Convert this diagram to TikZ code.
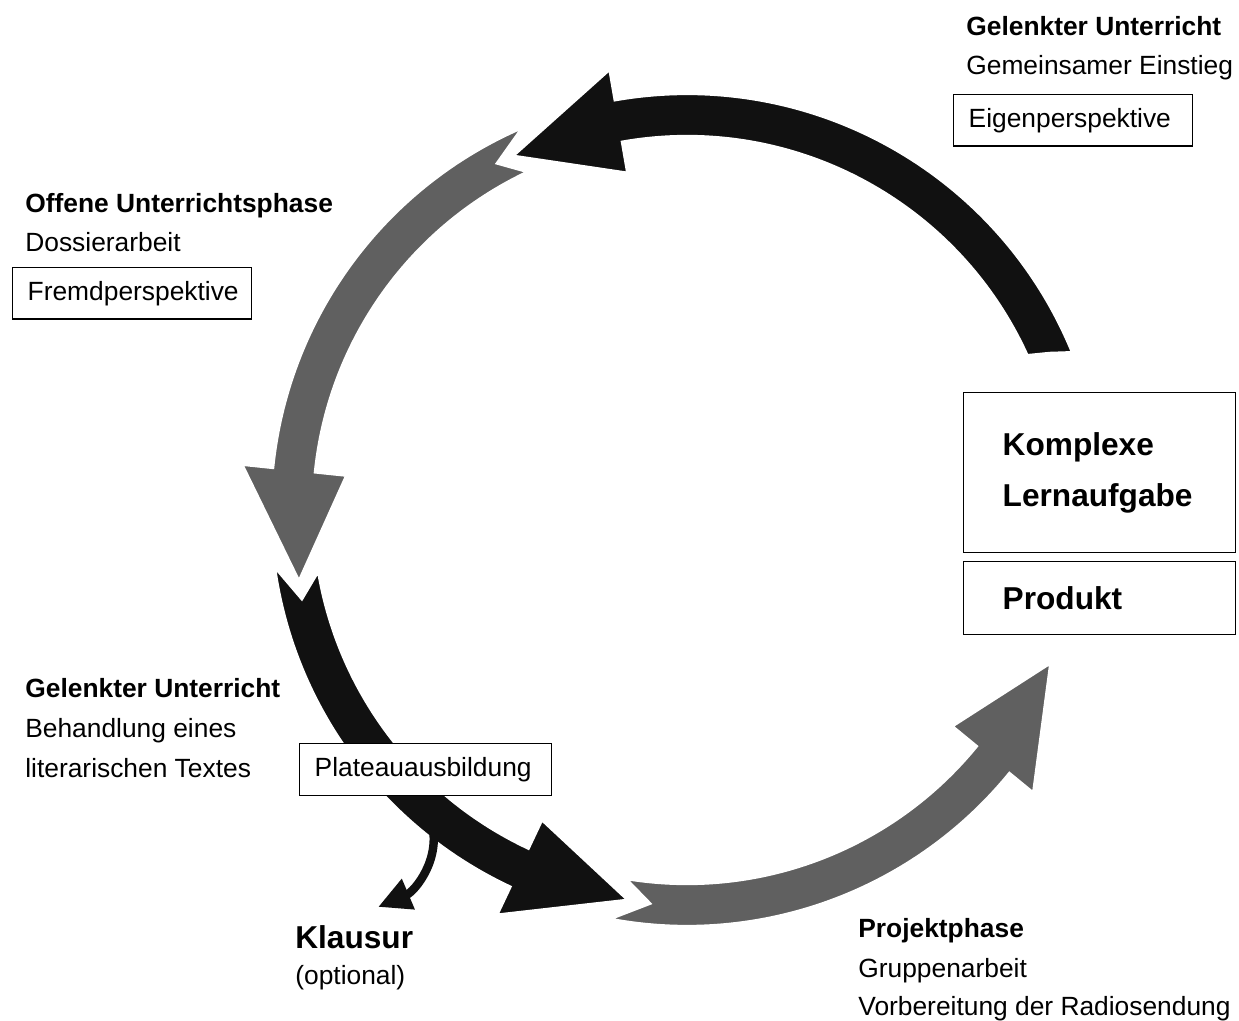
\documentclass[tikz,border=0pt]{standalone}
\usepackage{fontspec}
\setmainfont{Liberation Sans}
\usetikzlibrary{arrows.meta, positioning, calc}
\definecolor{cycleblack}{RGB}{17,17,17}
\definecolor{cyclegrey}{RGB}{96,96,96}
\def\cycRin{7.45}\def\cycRout{8.35}\def\cycRmid{7.9}\def\cycRhin{6.81}\def\cycRhout{8.99}
% curved phase arrow: colour, tail outer, tail inner, notch, head base, tip (angles)
\newcommand{\phasearrow}[6]{%
  \filldraw[#1, draw=white, line width=3pt]
    (#2:\cycRout) -- (#4:\cycRmid) -- (#3:\cycRin)
    arc[start angle=#3, end angle=#5, radius=\cycRin]
    -- (#5:\cycRhin) -- (#6:\cycRmid) -- (#5:\cycRhout) -- (#5:\cycRout)
    arc[start angle=#5, end angle=#2, radius=\cycRout] -- cycle;}
\tikzset{
  phasetitle/.style={font=\fontsize{15}{18}\selectfont\bfseries, anchor=base west, inner sep=0pt},
  phasetext/.style={font=\fontsize{15}{18}\selectfont, anchor=base west, inner sep=0pt},
  phasebox/.style={draw, fill=white, line width=0.8pt, anchor=north west, inner xsep=0.3cm, inner ysep=0pt, align=left, minimum height=1.03cm, font=\fontsize{15}{18}\selectfont},
  taskbox/.style={draw, fill=white, line width=0.8pt, anchor=north west, inner xsep=0.78cm, inner ysep=0pt, align=left, text width=3.88cm, font=\fontsize{18}{29}\selectfont\bfseries}
}
\begin{document}
\begin{tikzpicture}
    \useasboundingbox (0,0) rectangle (24.78,-20.42);
    \coordinate (C) at (13.74,-10.2);

    % Cycle arrows
    \begin{scope}[shift={(C)}]
        \phasearrow{cycleblack}{22.0}{24.3}{23.2}{99.8}{116.6}
        \phasearrow{cyclegrey}{112.7}{114.7}{118.4}{174}{190.8}
        \phasearrow{cycleblack}{187.3}{188.9}{192.7}{244.7}{261.8}
        \phasearrow{cyclegrey}{258.7}{260}{264.3}{320.6}{337.6}
        % Klausur branch
        \coordinate (kstart) at (230.5:8.05);
        \coordinate (kend) at (-6.18,-7.94);
        \draw[cycleblack, line width=4.8pt, -{Triangle[length=0.66cm, width=0.62cm]}] (kstart) to[out=-73, in=23] (kend);
    \end{scope}

    % Gelenkter Unterricht (Einstieg)
    \node[phasetitle] (einT) at (19.32,-0.72) {Gelenkter Unterricht};
    \node[phasetext] (einA) at (19.32,-1.50) {Gemeinsamer Einstieg};
    \node[phasebox, text width=4.18cm] (einB) at (19.06,-1.88) {Eigenperspektive};

    % Offene Unterrichtsphase
    \node[phasetitle] (offT) at (0.5,-4.26) {Offene Unterrichtsphase};
    \node[phasetext] (offA) at (0.5,-5.04) {Dossierarbeit};
    \node[phasebox, text width=4.18cm] (offB) at (0.24,-5.34) {Fremdperspektive};

    % Gelenkter Unterricht (Text)
    \node[phasetitle] (litT) at (0.5,-13.94) {Gelenkter Unterricht};
    \node[phasetext] (litA) at (0.5,-14.74) {Behandlung eines};
    \node[phasetext] (litB) at (0.5,-15.54) {literarischen Textes};
    \node[phasebox, text width=4.44cm] (litC) at (5.98,-14.86) {Plateauausbildung};

    % Lernaufgabe
    \node[taskbox, minimum height=3.2cm] (task) at (19.26,-7.84) {Komplexe\\Lernaufgabe};
    \node[taskbox, minimum height=1.46cm] (prod) at (19.26,-11.22) {Produkt};

    % Klausur
    \node[phasetitle, font=\fontsize{18}{22}\selectfont\bfseries] (klT) at (5.9,-18.96) {Klausur};
    \node[phasetext] (klA) at (5.9,-19.68) {(optional)};

    % Projektphase
    \node[phasetitle] (proT) at (17.16,-18.74) {Projektphase};
    \node[phasetext] (proA) at (17.16,-19.54) {Gruppenarbeit};
    \node[phasetext] (proB) at (17.16,-20.3) {Vorbereitung der Radiosendung};
\end{tikzpicture}
\end{document}
